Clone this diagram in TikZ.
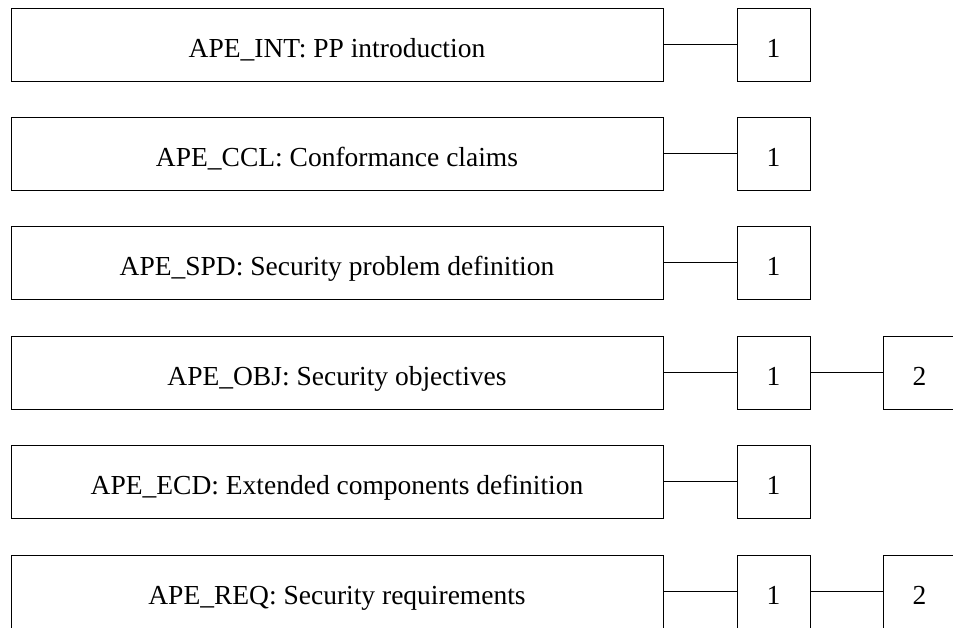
\documentclass[tikz,border=0pt]{standalone}
\usepackage{fontspec}
\setmainfont{Liberation Serif}

\begin{document}
\begin{tikzpicture}[x=1pt, y=-1pt,
        every node/.style={font=\fontsize{27.5}{32}\selectfont, text height=25pt, text depth=0pt},
        familybox/.style={draw, line width=1pt, inner sep=0pt, minimum width=652pt, minimum height=73pt},
        levelbox/.style={draw, line width=1pt, inner sep=0pt, minimum width=73pt, minimum height=73pt},
        link/.style={line width=1pt}]
        \useasboundingbox (0, 0) rectangle (953, 627);
        \node[familybox] (int) at (337, 44.5) {APE\_INT: PP introduction};
        \node[levelbox] (int1) at (773.5, 44.5) {1};
        \node[familybox] (ccl) at (337, 153.5) {APE\_CCL: Conformance claims};
        \node[levelbox] (ccl1) at (773.5, 153.5) {1};
        \node[familybox] (spd) at (337, 262.5) {APE\_SPD: Security problem definition};
        \node[levelbox] (spd1) at (773.5, 262.5) {1};
        \node[familybox] (obj) at (337, 372.5) {APE\_OBJ: Security objectives};
        \node[levelbox] (obj1) at (773.5, 372.5) {1};
        \node[levelbox] (obj2) at (919.5, 372.5) {2};
        \node[familybox] (ecd) at (337, 481.5) {APE\_ECD: Extended components definition};
        \node[levelbox] (ecd1) at (773.5, 481.5) {1};
        \node[familybox] (req) at (337, 591.5) {APE\_REQ: Security requirements};
        \node[levelbox] (req1) at (773.5, 591.5) {1};
        \node[levelbox] (req2) at (919.5, 591.5) {2};
        \draw[link] (int) -- (int1);
        \draw[link] (ccl) -- (ccl1);
        \draw[link] (spd) -- (spd1);
        \draw[link] (obj) -- (obj1);
        \draw[link] (obj1) -- (obj2);
        \draw[link] (ecd) -- (ecd1);
        \draw[link] (req) -- (req1);
        \draw[link] (req1) -- (req2);
    \end{tikzpicture}
\end{document}
